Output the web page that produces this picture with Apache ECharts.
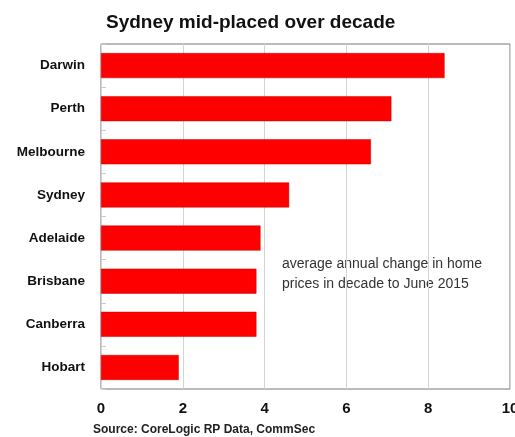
<!DOCTYPE html>
<html>
<head>
<meta charset="utf-8">
<script src="https://cdn.jsdelivr.net/npm/echarts@6/dist/echarts.min.js"></script>
<style>
    html, body { margin: 0; padding: 0; background: #fff; }
    #chart { width: 515px; height: 437px; }
</style>
</head>
<body>
<div id="chart"></div>
<script>
// cities, top to bottom
var cities = ['Darwin', 'Perth', 'Melbourne', 'Sydney', 'Adelaide', 'Brisbane', 'Canberra', 'Hobart'];
// average annual change in home prices, %
var changes = [8.4, 7.1, 6.6, 4.6, 3.9, 3.8, 3.8, 1.9];
var xTicks = [0, 2, 4, 6, 8, 10];

var font = 'Liberation Sans, Arial, sans-serif';
var chart = echarts.init(document.getElementById('chart'));

var option = {
    animation: false,
    title: {
        text: 'Sydney mid-placed over decade',
        left: 101,
        top: 8,
        textStyle: {
            fontFamily: font,
            fontSize: 19,
            fontWeight: 'bold',
            color: '#111'
        }
    },
    grid: {
        left: 101,
        right: 5,
        top: 44,
        bottom: 48,
        outerBoundsMode: 'none',
        containLabel: false,
        show: true,
        borderColor: '#777',
        borderWidth: 1
    },
    xAxis: {
        type: 'value',
        min: xTicks[0],
        max: xTicks[xTicks.length - 1],
        interval: 2,
        axisLine: { show: false },
        axisTick: { show: false },
        axisLabel: {
            fontFamily: font,
            fontSize: 15,
            fontWeight: 'bold',
            color: '#111',
            margin: 12
        },
        splitLine: {
            lineStyle: { color: '#d4d4d4', width: 1 }
        }
    },
    yAxis: {
        type: 'category',
        inverse: true,
        data: cities,
        axisLine: { show: false },
        axisTick: {
            show: true,
            inside: true,
            length: 5,
            lineStyle: { color: '#ccc' }
        },
        axisLabel: {
            fontFamily: font,
            fontSize: 13.5,
            fontWeight: 'bold',
            color: '#111',
            margin: 16
        }
    },
    series: [
        {
            type: 'bar',
            data: changes,
            barWidth: 25,
            itemStyle: {
                color: '#ff0000',
                borderColor: '#c00000',
                borderWidth: 0.5
            }
        }
    ],
    graphic: [
        {
            type: 'text',
            left: 282,
            top: 254,
            style: {
                text: 'average annual change in home\nprices in decade to June 2015',
                fontFamily: font,
                fontSize: 14,
                lineHeight: 20,
                fill: '#333'
            }
        },
        {
            type: 'text',
            left: 93,
            top: 424,
            style: {
                text: 'Source: CoreLogic RP Data, CommSec',
                fontFamily: font,
                fontSize: 12,
                fontWeight: 'bold',
                fill: '#222'
            }
        }
    ]
};

chart.setOption(option);
</script>
</body>
</html>
